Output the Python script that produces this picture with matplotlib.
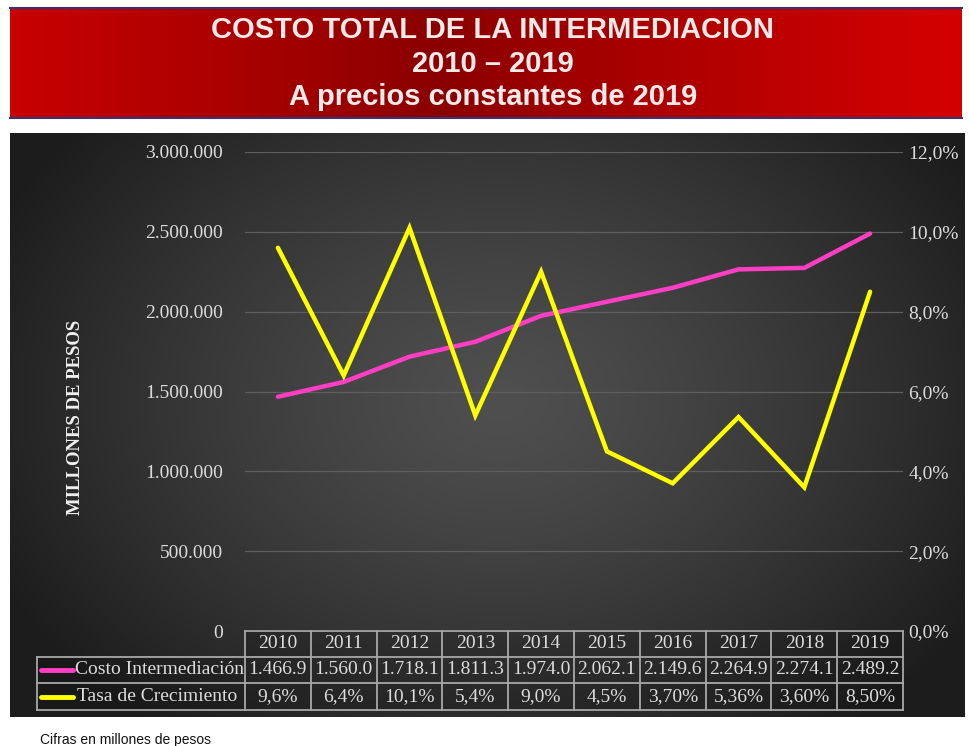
import numpy as np
import matplotlib.pyplot as plt
from matplotlib import transforms
from matplotlib.ticker import FuncFormatter, MultipleLocator

# datos
years = ["2010", "2011", "2012", "2013", "2014", "2015", "2016", "2017", "2018", "2019"]
costo = [1466.9, 1560.0, 1718.1, 1811.3, 1974.0, 2062.1, 2149.6, 2264.9, 2274.1, 2489.2]  # miles de millones
tasa = [9.6, 6.4, 10.1, 5.4, 9.0, 4.5, 3.70, 5.36, 3.60, 8.50]
tasa_labels = ["9,6%", "6,4%", "10,1%", "5,4%", "9,0%", "4,5%", "3,70%", "5,36%", "3,60%", "8,50%"]
titulo = ["COSTO TOTAL DE LA INTERMEDIACION", "2010 \u2013 2019", "A precios constantes de 2019"]

W, H = 970, 746
fig = plt.figure(figsize=(W / 100, H / 100), dpi=100)
fig.patch.set_facecolor("white")

serif = ["Liberation Serif", "DejaVu Serif"]
sans = ["Liberation Sans", "DejaVu Sans"]
txt_col = "#dcdcdc"
mag = "#ff3ec4"
yel = "#ffff00"

# capa de fondo en pixeles
ov = fig.add_axes([0, 0, 1, 1], zorder=0)
ov.set_xlim(0, W)
ov.set_ylim(H, 0)
ov.axis("off")

# fondo oscuro con degradado radial
xx, yy = np.meshgrid(np.linspace(10, 965, 400), np.linspace(133, 717, 300))
r = np.sqrt(((xx - 500) / 560) ** 2 + ((yy - 400) / 420) ** 2)
r = np.clip(r, 0, 1)
g = 0.31 - 0.20 * r ** 1.3
ov.imshow(np.dstack([g, g, g]), extent=[10, 965, 717, 133], aspect="auto", zorder=0)

# banda del titulo
xb = np.linspace(-1, 1, 500)
t = np.abs(xb + 0.1) ** 0.9
red = 0.54 + 0.27 * t
banner = np.dstack([red, np.zeros_like(red), np.zeros_like(red)]).repeat(10, axis=0)
ov.imshow(banner, extent=[10, 962, 118, 8], aspect="auto", zorder=0)
ov.plot([10, 962], [8, 8], color="#3a3272", lw=1.5, zorder=1)
ov.plot([10, 962], [118, 118], color="#3a3272", lw=1.5, zorder=1)
for i, line in enumerate(titulo):
    ov.text(493, 30 + 33.5 * i, line, ha="center", va="center", color="#f4eaea",
            fontsize=21, fontweight="bold", family=sans, zorder=2)

# ejes principales
ax = fig.add_axes([245 / W, 1 - 631 / H, 658 / W, (631 - 152) / H], zorder=1)
ax.patch.set_visible(False)
ax2 = ax.twinx()
ax2.patch.set_visible(False)

x = np.arange(len(years))
ax.plot(x, np.array(costo) * 1000, color=mag, lw=3.2, solid_capstyle="round", zorder=3)
ax2.plot(x, tasa, color=yel, lw=3.2, solid_capstyle="round", solid_joinstyle="miter", zorder=3)

ax.set_xlim(-0.5, len(years) - 0.5)
ax.set_ylim(0, 3000000)
ax2.set_ylim(0, 12)
ax.yaxis.set_major_locator(MultipleLocator(500000))
ax2.yaxis.set_major_locator(MultipleLocator(2))
ax.yaxis.set_major_formatter(FuncFormatter(lambda v, p: f"{v:,.0f}".replace(",", ".")))
ax2.yaxis.set_major_formatter(FuncFormatter(lambda v, p: f"{v:.1f}%".replace(".", ",")))
ax.grid(axis="y", color="#5e5e5e", lw=0.9)
ax.set_xticks([])
for a in (ax, ax2):
    for s in a.spines.values():
        s.set_visible(False)
    a.tick_params(axis="y", length=0, labelsize=14, labelcolor=txt_col)
    for lab in a.get_yticklabels():
        lab.set_family(serif)
ax.tick_params(axis="y", pad=16)
ax2.tick_params(axis="y", pad=4)

fig.text(75 / W, 1 - 417 / H, "MILLONES DE PESOS", rotation=90, ha="center", va="center",
         color="#f0f0f0", fontsize=13.5, fontweight="bold", family=serif)

# tabla de datos bajo el grafico
tr = transforms.blended_transform_factory(ax.transData, ov.transData)
border = "#a8a8a8"
rows_y = [631, 657, 683, 710]
n = len(years)
cell_bg = "#000000"
ov.fill_between([-0.5, n - 0.5], 631, 657, color=cell_bg, alpha=0.12, transform=tr, zorder=1, lw=0)
ov.fill_between([37, 245], 657, 710, color=cell_bg, alpha=0.12, zorder=1, lw=0)
ov.fill_between([-0.5, n - 0.5], 657, 710, color=cell_bg, alpha=0.12, transform=tr, zorder=1, lw=0)
ov.plot([-0.5, n - 0.5], [631, 631], color=border, lw=1.3, transform=tr, zorder=2)
for yv in rows_y[1:]:
    ov.plot([37, 903], [yv, yv], color=border, lw=1.3, zorder=2)
ov.plot([37, 37], [657, 710], color=border, lw=1.3, zorder=2)
for i in range(n + 1):
    ov.plot([i - 0.5, i - 0.5], [631, 710], color=border, lw=1.3, transform=tr, zorder=2)

tf = dict(ha="center", va="center", color=txt_col, fontsize=14, family=serif, zorder=3)
for i in range(n):
    ov.text(i, 644, years[i], transform=tr, **tf)
    ov.text(i, 670, f"{costo[i]:,.1f}".replace(",", "."), transform=tr, **tf)
    ov.text(i, 696.5, tasa_labels[i], transform=tr, **tf)

ov.plot([41, 73], [670, 670], color=mag, lw=3.5, solid_capstyle="round", zorder=3)
ov.plot([41, 73], [696.5, 696.5], color=yel, lw=3.5, solid_capstyle="round", zorder=3)
ov.text(75, 670, "Costo Intermediaci\u00f3n", ha="left", va="center", color=txt_col,
        fontsize=14, family=serif, zorder=3)
ov.text(77, 696.5, "Tasa de Crecimiento", ha="left", va="center", color=txt_col,
        fontsize=14, family=serif, zorder=3)

ov.text(40, 740, "Cifras en millones de pesos", ha="left", va="center", color="#111111",
        fontsize=10, family=sans)

fig.savefig("out.png", dpi=100)
